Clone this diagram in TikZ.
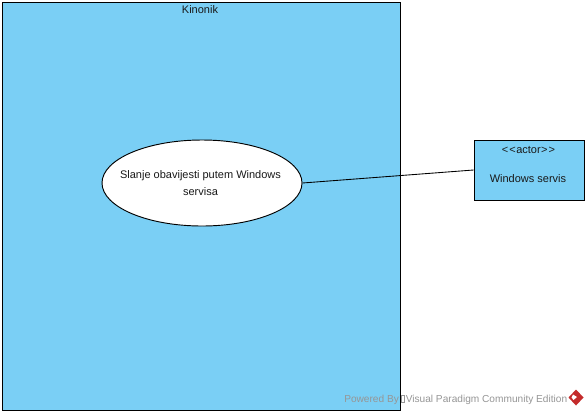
\documentclass[tikz,border=0pt]{standalone}
\usepackage{fontspec}
\setmainfont{Liberation Sans}
\usetikzlibrary{shapes.geometric}
\definecolor{vpblue}{RGB}{122,207,245}
\definecolor{vpgray}{RGB}{150,150,150}
\definecolor{vpred}{RGB}{196,43,43}
\tikzset{
  lbl/.style={font=\fontsize{8.25pt}{12.4pt}\selectfont, text=black!90},
  sysbox/.style={draw=black, fill=vpblue, line width=0.7pt, minimum width=298.5pt, minimum height=306pt, inner sep=0pt},
  usecase/.style={ellipse, draw=black, fill=white, line width=0.7pt, minimum width=150pt, minimum height=64.5pt, inner sep=0pt},
  actorbox/.style={draw=black, fill=vpblue, line width=0.7pt, minimum width=82.5pt, minimum height=45pt, inner sep=0pt},
  wm/.style={font=\fontsize{7.6pt}{10pt}\selectfont, text=vpgray, inner sep=0pt, anchor=base west},
  link/.style={draw=black, line width=0.65pt}
}
\begin{document}
\begin{tikzpicture}[x=0.75pt,y=-0.75pt]
\useasboundingbox (0,0) rectangle (588,415);
\fill[white] (0,0) rectangle (588,415);
\node[sysbox] (sys) at (201,206) {};
\node[lbl, inner sep=0pt] (systitle) at (200,9.5) {Kinonik};
\node[usecase] (uc) at (202,183) {};
\node[lbl, align=center, inner sep=0pt] (uctext) at (200.5,183) {Slanje obavijesti putem Windows\\servisa};
\node[actorbox] (actor) at (529,170) {};
\node[lbl, inner sep=0pt] (stereo) at (528.5,150) {<\kern0.8pt<\kern0.3pt actor\kern0.3pt>\kern0.8pt>};
\node[lbl, inner sep=0pt] (aname) at (528,179) {Windows servis};
\draw[link] (uc.east) -- (actor.west);
\node[wm] (wm1) at (344,402) {Powered By};
\node[wm] (wm2) at (405.5,402) {Visual Paradigm Community Edition};
\draw[vpgray, line width=0.3pt] (400.8,395) rectangle (404,402);
\fill[vpred] (576,389.5) -- (583.5,397.5) -- (576,405.5) -- (568.5,397.5) -- cycle;
\fill[white] (573,394.5) -- (577,397) -- (573.5,400) -- (571.5,397.5) -- cycle;
\end{tikzpicture}
\end{document}
